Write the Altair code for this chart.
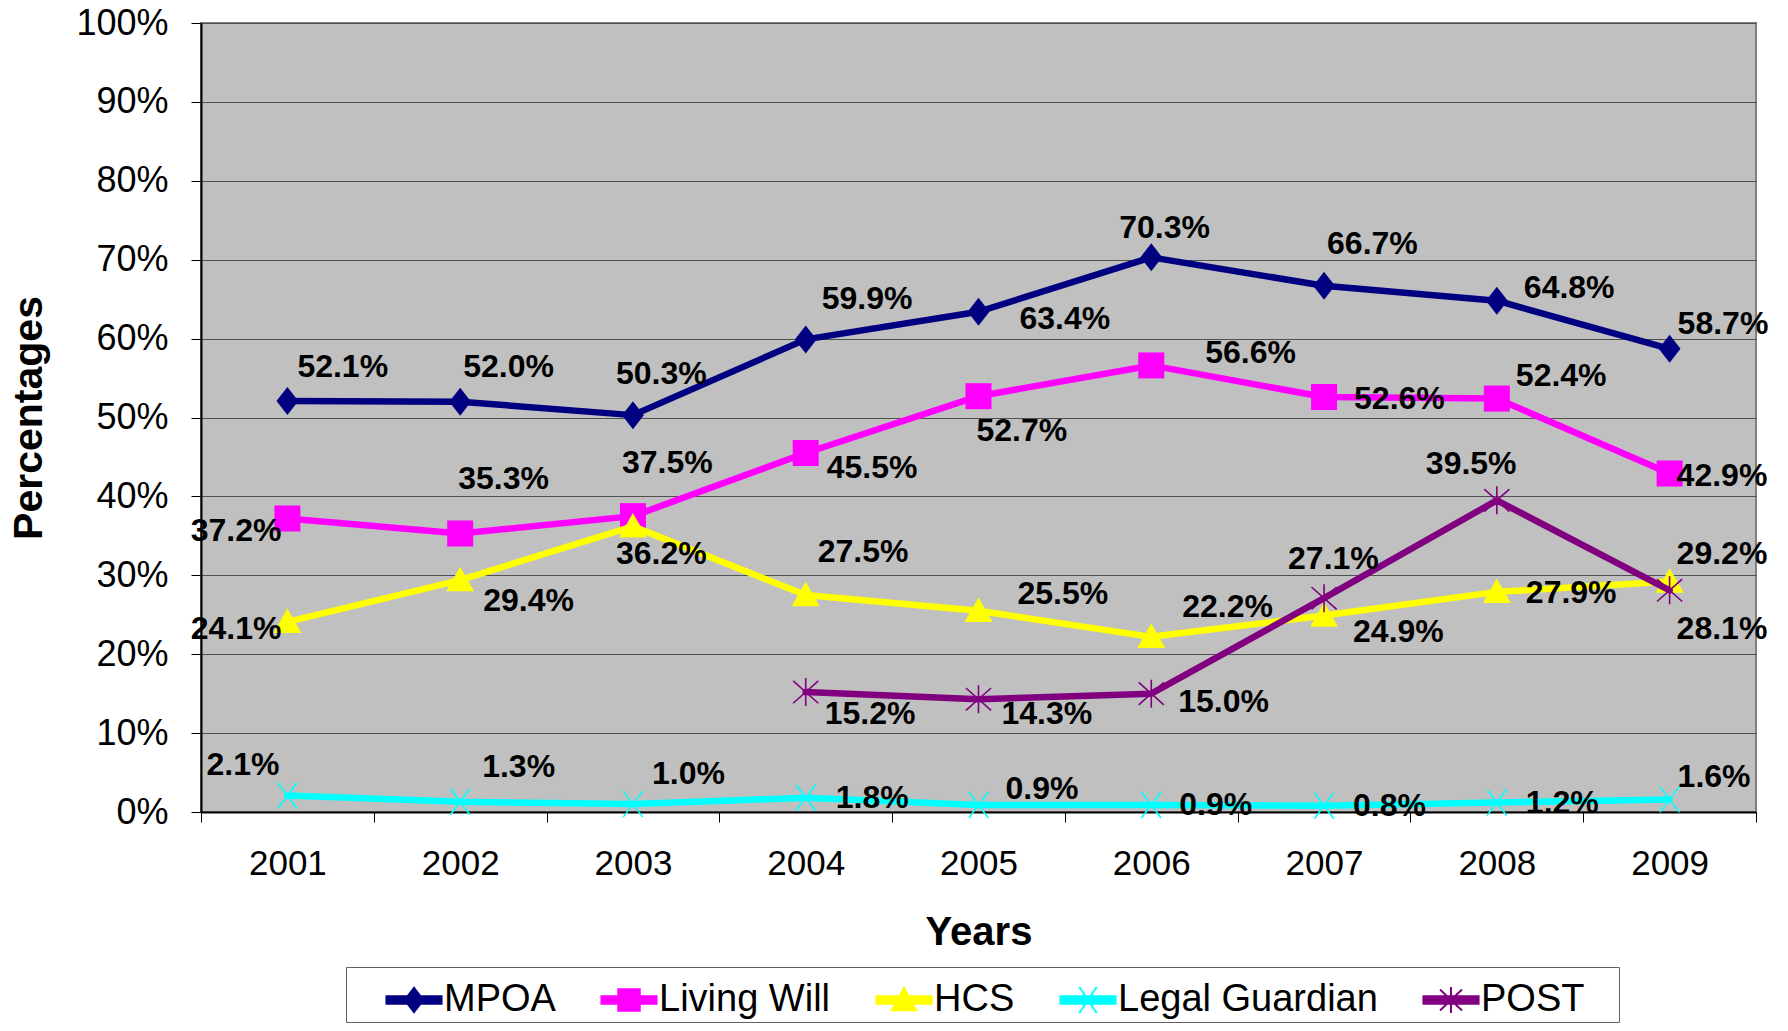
import altair as alt
import pandas as pd

# ---------------- data ----------------
years = ["2001", "2002", "2003", "2004", "2005", "2006", "2007", "2008", "2009"]
series_names = ["MPOA", "Living Will", "HCS", "Legal Guardian", "POST"]

mpoa = [52.1, 52.0, 50.3, 59.9, 63.4, 70.3, 66.7, 64.8, 58.7]
living_will = [37.2, 35.3, 37.5, 45.5, 52.7, 56.6, 52.6, 52.4, 42.9]
hcs = [24.1, 29.4, 36.2, 27.5, 25.5, 22.2, 24.9, 27.9, 29.2]
legal_guardian = [2.1, 1.3, 1.0, 1.8, 0.9, 0.9, 0.8, 1.2, 1.6]
post = [None, None, None, 15.2, 14.3, 15.0, 27.1, 39.5, 28.1]

series_values = [mpoa, living_will, hcs, legal_guardian, post]

# ---------------- data-label placement (pixel offsets from each point) ----------------
label_dx = [
    [10, 3, -17, 16, 41, -32, 3, 27, 8],
    [-6, -2, -11, 21, -2, 54, 30, 19, 7],
    [-6, 23, -17, 12, 39, 31, 29, 29, 7],
    [-8, 22, 19, 30, 27, 28, 29, 29, 8],
    [0, 0, 0, 19, 23, 27, -36, -71, 7],
]
label_dy = [
    [-34, -35, -41, -40, 7, -29, -42, -13, -25],
    [13, -54, -53, 15, 35, -12, 2, -23, 2],
    [7, 21, 28, -43, -17, -30, 16, 1, -28],
    [-30, -35, -30, 0, -16, 0, 0, 0, -22],
    [0, 0, 0, 22, 15, 8, -39, -36, 39],
]
label_align = [
    ["left"] * 9,
    ["right"] + ["left"] * 8,
    ["right"] + ["left"] * 8,
    ["right"] + ["left"] * 8,
    ["left"] * 9,
]

# ---------------- styles ----------------
FONT = "Liberation Sans, Arial, sans-serif"
colors = ["#000080", "#FF00FF", "#FFFF00", "#00FFFF", "#800080"]
marker_paths = [
    "M0,-1L0.78,0L0,1L-0.78,0Z",
    "M-1,-1L1,-1L1,1L-1,1Z",
    "M0,-0.95L1,0.8L-1,0.8Z",
    "M-0.75,-1L0.75,1M-0.75,1L0.75,-1",
    "M0,-1L0,1M-0.9,-0.8L0.9,0.8M-0.9,0.8L0.9,-0.8",
]
marker_sizes = [784, 676, 784, 676, 784]
marker_filled = [True, True, True, False, False]

bar = "M-0.95,-0.13L0.95,-0.13L0.95,0.13L-0.95,0.13Z"
legend_paths = [
    bar + "M0,-0.42L0.32,0L0,0.42L-0.32,0Z",
    bar + "M-0.37,-0.37L0.37,-0.37L0.37,0.37L-0.37,0.37Z",
    bar + "M0,-0.42L0.42,0.35L-0.42,0.35Z",
    bar + "M-0.3,-0.45L0.3,0.45M-0.3,0.45L0.3,-0.45",
    bar + "M0,-0.45L0,0.45M-0.38,-0.36L0.38,0.36M-0.38,0.36L0.38,-0.36",
]

rows = []
for si, (name, vals) in enumerate(zip(series_names, series_values)):
    for yi, (yr, v) in enumerate(zip(years, vals)):
        if v is None:
            continue
        rows.append(
            dict(
                year=yr,
                series=name,
                value=v,
                dx=label_dx[si][yi],
                dy=label_dy[si][yi],
                align=label_align[si][yi],
            )
        )
df = pd.DataFrame(rows)

x_axis = alt.Axis(
    title="Years",
    titleFontSize=40,
    titleFontWeight="bold",
    titleBaseline="alphabetic",
    titleY=132,
    labelFontSize=35,
    labelAngle=0,
    labelPadding=24,
    tickSize=10,
    tickColor="black",
    tickBand="extent",
    domainColor="black",
    domainWidth=2,
    grid=False,
)
y_axis = alt.Axis(
    title="Percentages",
    titleFontSize=41,
    titleFontWeight="bold",
    titleBaseline="alphabetic",
    titleX=-160,
    values=[0, 10, 20, 30, 40, 50, 60, 70, 80, 90, 100],
    labelExpr="datum.value + '%'",
    labelFontSize=36,
    labelPadding=23,
    tickSize=10,
    tickColor="black",
    domainColor="black",
    domainWidth=2,
    grid=True,
    gridColor="#505050",
    gridWidth=1,
)

base = alt.Chart(df).encode(
    x=alt.X(
        "year:N",
        scale=alt.Scale(type="band", domain=years, paddingInner=0, paddingOuter=0),
        axis=x_axis,
    ),
    y=alt.Y("value:Q", scale=alt.Scale(domain=[0, 100], nice=False), axis=y_axis),
)

layers = []
for si, name in enumerate(series_names):
    sub = base.transform_filter(alt.datum.series == name)
    layers.append(
        sub.mark_line(
            color=colors[si], strokeWidth=6.5, strokeJoin="round", strokeCap="round"
        )
    )
    if marker_filled[si]:
        pt = sub.mark_point(
            shape=marker_paths[si],
            size=marker_sizes[si],
            filled=True,
            color=colors[si],
            opacity=1,
        )
    else:
        pt = sub.mark_point(
            shape=marker_paths[si],
            size=marker_sizes[si],
            filled=False,
            color=colors[si],
            strokeWidth=1.6,
            opacity=1,
        )
    layers.append(pt)

labels = base.transform_calculate(
    label="format(datum.value, '.1f') + '%'"
)
for al in ["left", "right"]:
    layers.append(
        labels.transform_filter(alt.datum.align == al)
        .mark_text(
            font=FONT,
            fontSize=32,
            fontWeight="bold",
            color="black",
            align=al,
            baseline="middle",
            dx=alt.ExprRef(expr="datum.dx"),
            dy=alt.ExprRef(expr="datum.dy"),
        )
        .encode(text="label:N")
    )

legend = alt.Legend(
    title=" ",
    titleOrient="right",
    titlePadding=32,
    titleFontSize=38,
    orient="none",
    legendX=145,
    legendY=944,
    direction="horizontal",
    columns=5,
    gridAlign="each",
    columnPadding=8,
    labelFont=FONT,
    labelFontSize=38,
    labelColor="black",
    labelBaseline="middle",
    labelLimit=600,
    labelOffset=0,
    symbolOffset=35,
    symbolSize=3364,
    symbolStrokeWidth=2,
    padding=3,
    strokeColor="#606060",
    fillColor="white",
)
legend_layer = (
    alt.Chart(df)
    .transform_filter("false")
    .mark_point(filled=True, opacity=1, strokeWidth=2)
    .encode(
        fill=alt.Fill(
            "series:N",
            scale=alt.Scale(domain=series_names, range=colors),
            legend=legend,
        ),
        stroke=alt.Stroke(
            "series:N",
            scale=alt.Scale(domain=series_names, range=colors),
            legend=legend,
        ),
        shape=alt.Shape(
            "series:N",
            scale=alt.Scale(domain=series_names, range=legend_paths),
            legend=legend,
        ),
    )
)
layers.append(legend_layer)

chart = (
    alt.layer(*layers)
    .properties(
        width=1555,
        height=789,
        autosize=alt.AutoSizeParams(type="none"),
        padding={"left": 193, "top": 15, "right": 24, "bottom": 211},
        view=alt.ViewBackground(fill="#C0C0C0", stroke="#808080", strokeWidth=2),
    )
    .configure_view(fill="#C0C0C0", stroke="#808080", strokeWidth=2)
    .configure_axis(labelFont=FONT, titleFont=FONT, labelColor="black", titleColor="black")
)

chart.save("out.html", embed_options={"renderer": "svg", "actions": False})
